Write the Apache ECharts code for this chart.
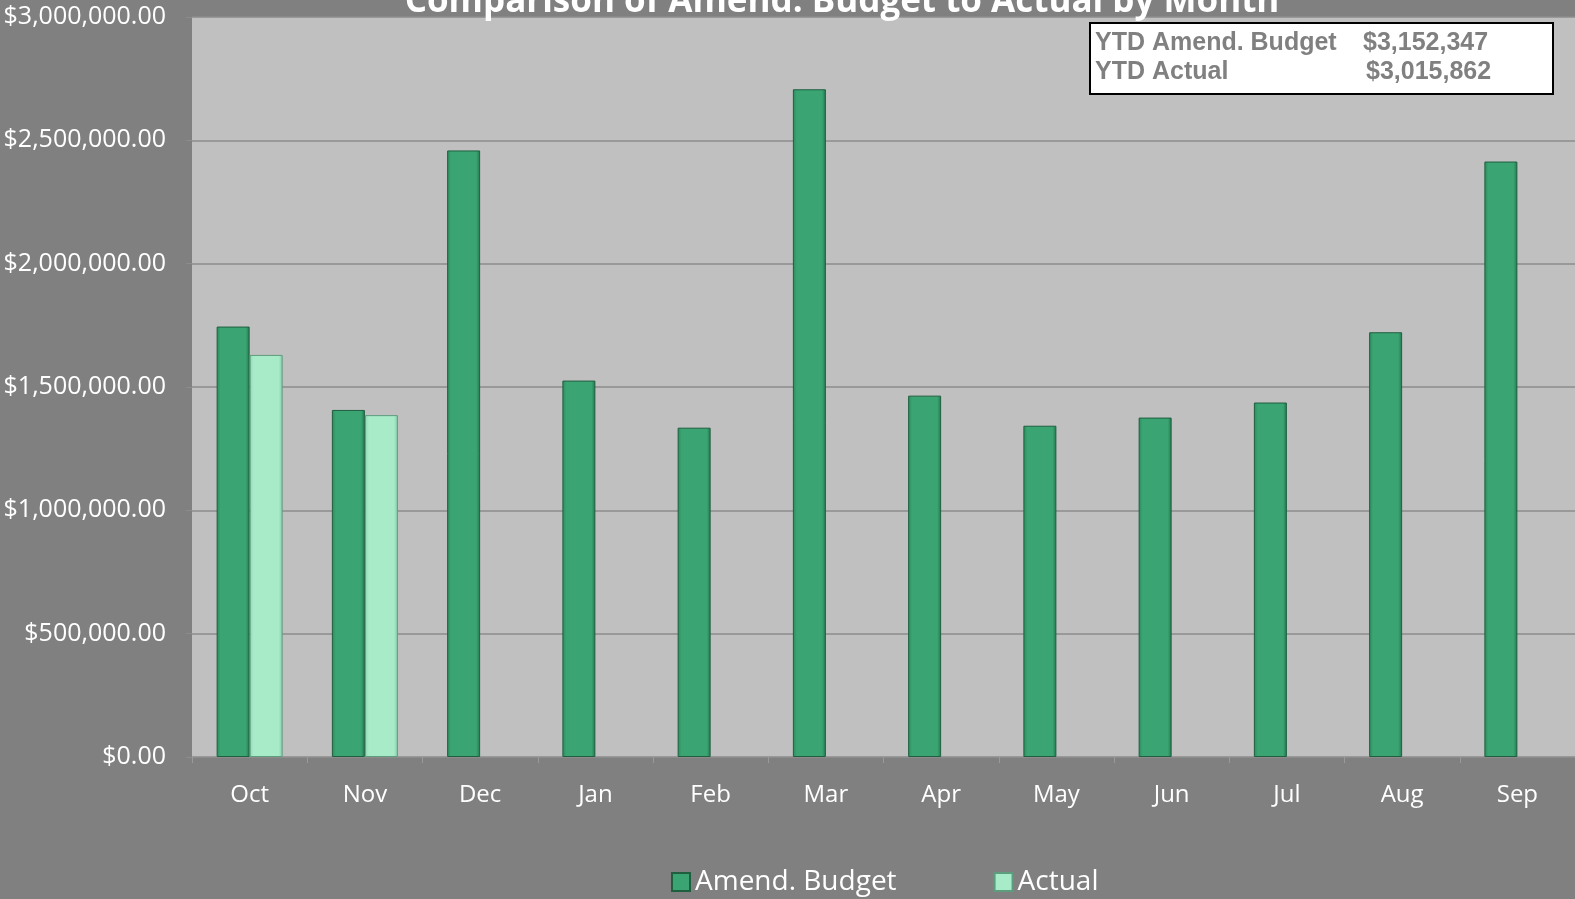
<!DOCTYPE html>
<html>
<head>
<meta charset="utf-8">
<script src="https://cdn.jsdelivr.net/npm/echarts@6/dist/echarts.min.js"></script>
<style>
html,body{margin:0;padding:0;background:#808080;}
#c{width:1575px;height:899px;}
</style>
</head>
<body>
<div id="c"></div>
<script>
const months = ['Oct','Nov','Dec','Jan','Feb','Mar','Apr','May','Jun','Jul','Aug','Sep'];
const amendBudget = [1745000, 1407000, 2459000, 1526000, 1335000, 2707000, 1465000, 1343000, 1376000, 1437000, 1722000, 2414000];
const actual = [1630000, 1386000, null, null, null, null, null, null, null, null, null, null];
const yTicks = [0, 500000, 1000000, 1500000, 2000000, 2500000, 3000000];
const ytdLabels = ['YTD Amend. Budget', 'YTD Actual'];
const ytdValues = ['$3,152,347', '$3,015,862'];
const titleText = 'Comparison of Amend. Budget to Actual by Month';

const chart = echarts.init(document.getElementById('c'));
const fontMain = '"Open Sans", "Noto Sans", sans-serif';
const boxFont = 'bold 25px "Liberation Sans", Arial, sans-serif';

function hGrad(edge, mid, edge2) {
  return new echarts.graphic.LinearGradient(0, 0, 1, 0, [
    {offset: 0, color: edge},
    {offset: 0.12, color: mid},
    {offset: 0.88, color: mid},
    {offset: 1, color: edge2}
  ]);
}

chart.setOption({
  backgroundColor: '#808080',
  animation: false,
  title: {
    text: titleText,
    left: 837,
    textAlign: 'center',
    top: -20,
    textStyle: {color: '#ffffff', fontFamily: fontMain, fontWeight: 'bold', fontSize: 35}
  },
  grid: {left: 192, right: -2, top: 17, bottom: 142, containLabel: false,
         show: true, backgroundColor: '#c0c0c0', borderWidth: 0},
  legend: {
    top: 863,
    left: 666,
    icon: 'rect',
    itemWidth: 18,
    itemHeight: 18,
    itemGap: 97,
    textStyle: {color: '#ffffff', fontFamily: fontMain, fontSize: 28},
    data: ['Amend. Budget', 'Actual']
  },
  xAxis: {
    type: 'category',
    data: months,
    axisLine: {show: true, lineStyle: {color: '#8c8c8c', width: 1}},
    axisTick: {show: true, length: 6, lineStyle: {color: '#9a9a9a'}},
    axisLabel: {color: '#ffffff', fontFamily: fontMain, fontSize: 24, margin: 26}
  },
  yAxis: {
    type: 'value',
    min: yTicks[0],
    max: yTicks[yTicks.length - 1],
    interval: yTicks[1] - yTicks[0],
    axisLine: {show: false},
    axisTick: {show: true, length: 6, lineStyle: {color: '#8c8c8c'}},
    splitLine: {show: true, lineStyle: {color: '#8c8c8c', width: 1.5}},
    axisLabel: {
      color: '#ffffff', fontFamily: fontMain, fontSize: 25, margin: 26,
      formatter: v => '$' + v.toLocaleString('en-US', {minimumFractionDigits: 2, maximumFractionDigits: 2})
    }
  },
  series: [
    {
      name: 'Amend. Budget',
      type: 'bar',
      data: amendBudget,
      barWidth: 33,
      barGap: '0%',
      itemStyle: {
        color: hGrad('#2b8a5b', '#3aa572', '#24784e'),
        borderColor: '#1f5f40',
        borderWidth: 1
      }
    },
    {
      name: 'Actual',
      type: 'bar',
      data: actual,
      barWidth: 33,
      barGap: '0%',
      itemStyle: {
        color: hGrad('#8fd6b2', '#a8ebc9', '#86c9a7'),
        borderColor: '#5e9c7e',
        borderWidth: 1
      }
    }
  ],
  graphic: [
    {
      type: 'rect',
      shape: {x: 1090, y: 23, width: 463, height: 71},
      style: {fill: '#ffffff', stroke: '#000000', lineWidth: 2},
      z: 10
    },
    {
      type: 'text', x: 1095, y: 31, z: 11,
      style: {text: ytdLabels[0], fill: '#808080', font: boxFont}
    },
    {
      type: 'text', x: 1095, y: 60, z: 11,
      style: {text: ytdLabels[1], fill: '#808080', font: boxFont}
    },
    {
      type: 'text', x: 1363, y: 31, z: 11,
      style: {text: ytdValues[0], fill: '#808080', font: boxFont}
    },
    {
      type: 'text', x: 1366, y: 60, z: 11,
      style: {text: ytdValues[1], fill: '#808080', font: boxFont}
    }
  ]
});
</script>
</body>
</html>
